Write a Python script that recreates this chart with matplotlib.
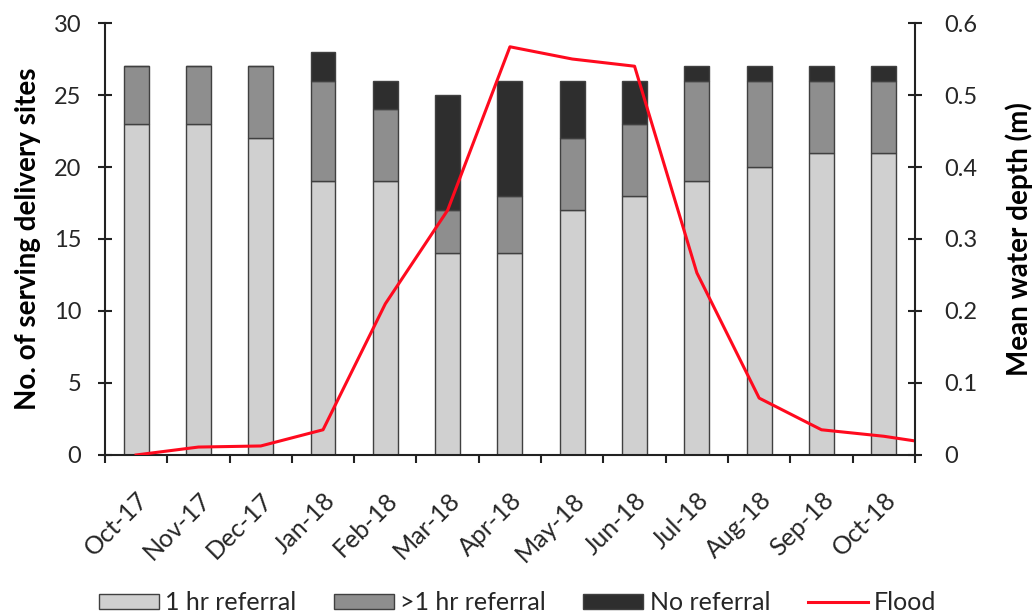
import numpy as np
import matplotlib
matplotlib.use('Agg')
import matplotlib.pyplot as plt

plt.rcParams['font.family'] = ['Lato', 'DejaVu Sans']

months = ['Oct-17', 'Nov-17', 'Dec-17', 'Jan-18', 'Feb-18', 'Mar-18', 'Apr-18',
          'May-18', 'Jun-18', 'Jul-18', 'Aug-18', 'Sep-18', 'Oct-18']
one_hr = [23, 23, 22, 19, 19, 14, 14, 17, 18, 19, 20, 21, 21]
more_hr = [4, 4, 5, 7, 5, 3, 4, 5, 5, 7, 6, 5, 5]
no_ref = [0, 0, 0, 2, 2, 8, 8, 4, 3, 1, 1, 1, 1]
# flood depth (m); last value is the next month, cut off at the axis edge
flood = [0.0, 0.011, 0.0125, 0.035, 0.21, 0.34, 0.567, 0.55, 0.54,
         0.253, 0.079, 0.035, 0.026, 0.013]

x = np.arange(len(months))
one_hr = np.array(one_hr)
more_hr = np.array(more_hr)
no_ref = np.array(no_ref)

fig = plt.figure(figsize=(10.35, 6.14), dpi=100)
ax = fig.add_axes([0.1014, 0.259, 0.7826, 0.7035])

edge = '#404040'
txt = '#262626'
w = 0.4
b1 = ax.bar(x, one_hr, w, color='#d0d0d0', edgecolor=edge, linewidth=1)
b2 = ax.bar(x, more_hr, w, bottom=one_hr, color='#8e8e8e', edgecolor=edge, linewidth=1)
b3 = ax.bar(x, no_ref, w, bottom=one_hr + more_hr, color='#2e2e2e', edgecolor=edge, linewidth=1)

ax.set_xlim(-0.5, len(months) - 0.5)
ax.set_ylim(0, 30)
ax.set_yticks(range(0, 31, 5))
ax.set_xticks(x)
ax.set_xticklabels(months, rotation=45, ha='right', rotation_mode='anchor', fontsize=18, color=txt)
ax.set_xticks(np.arange(-0.5, len(months), 1), minor=True)
ax.tick_params(axis='x', which='major', length=0, pad=24)
ax.tick_params(axis='x', which='minor', length=6, width=1.5, direction='out', color='#222222')
ax.tick_params(axis='y', length=10, width=1.5, direction='inout', labelsize=17,
               labelcolor=txt, color='#222222', pad=12)
ax.set_ylabel('No. of serving delivery sites', fontsize=20, fontweight='bold', labelpad=9)

for s in ['top', 'right']:
    ax.spines[s].set_visible(False)
for s in ['left', 'bottom']:
    ax.spines[s].set_linewidth(1.5)
    ax.spines[s].set_color('#222222')

ax2 = ax.twinx()
fx = np.arange(len(flood))
ln, = ax2.plot(fx, flood, color='#ff0a1e', linewidth=2.2)
ax2.set_ylim(0, 0.6)
ax2.set_xlim(-0.5, len(months) - 0.5)
ax2.set_yticks(np.arange(0, 0.61, 0.1))
ax2.set_yticklabels(['0', '0.1', '0.2', '0.3', '0.4', '0.5', '0.6'])
ax2.tick_params(axis='y', length=10, width=1.5, direction='inout', labelsize=17,
                labelcolor=txt, color='#222222', pad=16)
ax2.set_ylabel('Mean water depth (m)', fontsize=20, fontweight='bold', labelpad=20)
for s in ['top', 'left', 'bottom']:
    ax2.spines[s].set_visible(False)
ax2.spines['right'].set_linewidth(1.5)
ax2.spines['right'].set_color('#222222')

leg = fig.legend([b1, b2, b3, ln], ['1 hr referral', '>1 hr referral', 'No referral', 'Flood'],
                 loc='center', bbox_to_anchor=(0.5, 0.018), ncol=4, frameon=False,
                 fontsize=18, handlelength=2.4, handleheight=0.56, columnspacing=1.5,
                 handletextpad=0.25, labelcolor=txt)

fig.savefig('out.png', dpi=100)
